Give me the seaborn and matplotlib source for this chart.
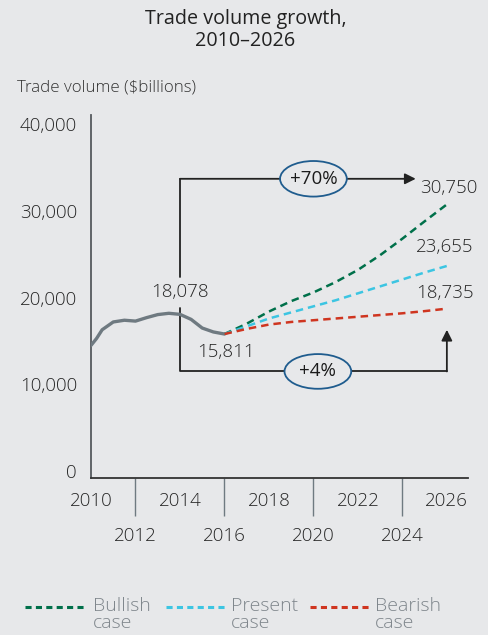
import matplotlib
matplotlib.use("Agg")
import matplotlib.pyplot as plt
from matplotlib.patches import Ellipse
from matplotlib.lines import Line2D
import seaborn as sns
import pandas as pd

# ---------------- data ----------------
hist_years = [2010, 2010.25, 2010.5, 2011, 2011.5, 2012, 2012.5, 2013, 2013.5, 2014, 2014.5, 2015, 2015.5, 2016]
hist_values = [14500, 15300, 16300, 17200, 17400, 17300, 17700, 18050, 18200, 18078, 17500, 16500, 16050, 15811]

proj_years = [2016, 2017, 2018, 2019, 2020, 2021, 2022, 2023, 2024, 2025, 2026]
bullish = [15811, 17000, 18400, 19600, 20600, 21800, 23200, 24900, 26800, 28800, 30750]
present = [15811, 16700, 17600, 18300, 19000, 19700, 20500, 21300, 22100, 22900, 23655]
bearish = [15811, 16400, 16900, 17200, 17400, 17600, 17800, 18000, 18200, 18450, 18735]

scenarios = ["Bullish\ncase", "Present\ncase", "Bearish\ncase"]
colors = ["#00704a", "#3cc5e2", "#cf3520"]
y_ticks = [0, 10000, 20000, 30000, 40000]
y_tick_labels = ["0", "10,000", "20,000", "30,000", "40,000"]
x_major = [2010, 2014, 2018, 2022, 2026]
x_minor = [2012, 2016, 2020, 2024]

BG = "#e7e8ea"
sns.set_theme(style="white", rc={"figure.facecolor": BG, "axes.facecolor": BG,
                                 "savefig.facecolor": BG})
plt.rcParams["font.family"] = ["Open Sans", "DejaVu Sans"]
plt.rcParams["font.weight"] = "light"

hist_df = pd.DataFrame({"year": hist_years, "value": hist_values})
proj_df = pd.concat([
    pd.DataFrame({"year": proj_years, "value": vals, "case": name})
    for name, vals in zip(scenarios, [bullish, present, bearish])
], ignore_index=True)

fig = plt.figure(figsize=(4.88, 6.35), dpi=100)
ax = fig.add_axes([0.1865, 0.247, 0.7725, 0.572])

sns.lineplot(data=hist_df, x="year", y="value", ax=ax, color="#6f7a81",
             linewidth=2.4, estimator=None, sort=True, zorder=3)
sns.lineplot(data=proj_df, x="year", y="value", hue="case", palette=colors,
             ax=ax, linewidth=1.8, legend=False, estimator=None, zorder=3)
for line in ax.lines[1:]:
    line.set_dashes((3, 2))

ax.set_xlim(2010, 2026.95)
ax.set_ylim(-800, 41060)
ax.set_xlabel("")
ax.set_ylabel("")

# spines
for s in ["top", "right"]:
    ax.spines[s].set_visible(False)
ax.spines["left"].set_color("#555a5e")
ax.spines["left"].set_linewidth(1.3)
ax.spines["bottom"].set_color("#333333")
ax.spines["bottom"].set_linewidth(1.3)

tick_c = "#262626"
ax.set_yticks(y_ticks, y_tick_labels)
ax.tick_params(axis="y", length=0, pad=10, labelsize=13.5, labelcolor=tick_c)
ax.set_xticks(x_major, [str(y) for y in x_major])
ax.set_xticks(x_minor, [str(y) for y in x_minor], minor=True)
ax.tick_params(axis="x", which="major", length=0, pad=10, labelsize=13.5,
               labelcolor=tick_c)
ax.tick_params(axis="x", which="minor", length=27.5, width=1.0, color="#6f7a81",
               direction="out", pad=8, labelsize=13.5, labelcolor=tick_c,
               bottom=True)

# ---------------- annotations ----------------
peak_year = hist_years[hist_values.index(18078)]
end_year = proj_years[-1]
lc = "#222222"
# +70% bracket
ax.plot([peak_year, peak_year], [22400, 33700], color=lc, lw=1.3, zorder=2)
ax.annotate("", xy=(2024.6, 33700), xytext=(peak_year, 33700),
            arrowprops=dict(arrowstyle="-|>", color=lc, lw=1.3,
                            mutation_scale=16, shrinkA=0, shrinkB=0), zorder=2)
ax.add_patch(Ellipse((2020.0, 33700), 3.0, 4100, facecolor=BG,
                     edgecolor="#1f5c8e", lw=1.3, zorder=4))
ax.text(2020.0, 33700, "+70%", ha="center", va="center", fontsize=13.5,
        color="#1a1a1a", zorder=5, fontweight="normal")
# +4% bracket
ax.plot([peak_year, peak_year, end_year], [18800, 11500, 11500], color=lc,
        lw=1.3, zorder=2)
ax.annotate("", xy=(end_year, 16300), xytext=(end_year, 11500),
            arrowprops=dict(arrowstyle="-|>", color=lc, lw=1.3,
                            mutation_scale=16, shrinkA=0, shrinkB=0), zorder=2)
ax.add_patch(Ellipse((2020.2, 11500), 3.0, 4000, facecolor=BG,
                     edgecolor="#1f5c8e", lw=1.3, zorder=4))
ax.text(2020.2, 11500, "+4%", ha="center", va="center", fontsize=13.5,
        color="#1a1a1a", zorder=5, fontweight="normal")

# value labels
tc = "#262626"
ax.text(peak_year, 20600, f"{hist_values[-5]:,}", ha="center", va="center",
        fontsize=13.5, color=tc)
ax.text(2016.05, 13700, f"{hist_values[-1]:,}", ha="center", va="center",
        fontsize=13.5, color=tc)
ax.text(2026.1, 32600, f"{bullish[-1]:,}", ha="center", va="center",
        fontsize=13.5, color=tc)
ax.text(2025.9, 25800, f"{present[-1]:,}", ha="center", va="center",
        fontsize=13.5, color=tc)
ax.text(2025.9, 20500, f"{bearish[-1]:,}", ha="center", va="center",
        fontsize=13.5, color=tc)

# titles
fig.text(0.503, 1 - 30 / 635, "Trade volume growth,\n2010\u20132026", ha="center",
         va="center", fontsize=14.2, color="#222222", linespacing=1.15,
         fontweight="normal")
fig.text(17 / 488, 1 - 87 / 635, "Trade volume ($billions)", ha="left",
         va="center", fontsize=12.2, color="#333333")

# legend
leg_y = 1 - 607 / 635
for (x0, x1, xt), name, col in zip([(25, 85, 93), (166, 225, 231), (310, 369, 375)],
                                   scenarios, colors):
    fig.add_artist(Line2D([x0 / 488, x1 / 488], [leg_y, leg_y], color=col,
                          lw=2.2, dashes=(2, 1.4), transform=fig.transFigure))
    fig.text(xt / 488, 1 - 597 / 635, name, ha="left", va="top", fontsize=14,
             color="#7f868c", linespacing=0.95)

fig.savefig("out.png", dpi=100)
